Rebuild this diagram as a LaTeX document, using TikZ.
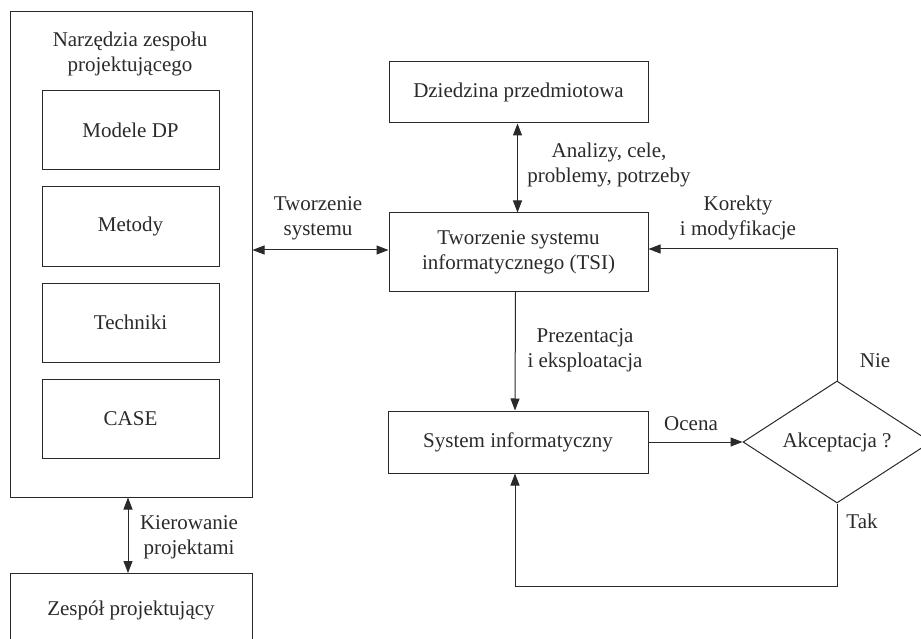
\documentclass[tikz,border=0pt]{standalone}
\usepackage{fontspec}
\setmainfont{Liberation Serif}
\usetikzlibrary{arrows.meta,shapes.geometric}

\definecolor{ink}{HTML}{2A2A2A}

\tikzset{
  box/.style={draw=ink, line width=1pt, rectangle, inner sep=0pt, align=center, text=ink},
  decision/.style={draw=ink, line width=1pt, diamond, inner sep=0pt, aspect=1.54, text=ink},
  lbl/.style={align=center, text=ink, inner sep=0pt},
  conn/.style={draw=ink, line width=1pt},
  arr/.style={conn, -{Triangle[length=12pt,width=9pt]}},
  darr/.style={conn, {Triangle[length=12pt,width=9pt]}-{Triangle[length=12pt,width=9pt]}},
}

\begin{document}
\begin{tikzpicture}[x=1pt, y=-1pt, font=\fontsize{21}{25}\selectfont]
\useasboundingbox (0,0) rectangle (921,639);
\clip (0,0) rectangle (921,639);

% tools of the design team
\node[box, minimum width=242, minimum height=485] (tools) at (131,254.5) {};
\node[lbl] (toolstitle) at (130,54) {Narzędzia zespołu\\projektującego};
\node[box, minimum width=177, minimum height=79] (modele)   at (130.5,130.5) {Modele DP};
\node[box, minimum width=177, minimum height=79] (metody)   at (130.5,226.5) {Metody};
\node[box, minimum width=177, minimum height=79] (techniki) at (130.5,322.5) {Techniki};
\node[box, minimum width=177, minimum height=79] (case)     at (130.5,418.5) {CASE};

% design team (runs past the lower edge)
\node[box, minimum width=242, minimum height=90, anchor=north] (zespol) at (131,573) {};
\node[lbl] (zespoltext) at (131,610) {Zespół projektujący};

% right-hand flow
\node[box, minimum width=259, minimum height=61] (dziedzina) at (518.5,92.5) {Dziedzina przedmiotowa};
\node[box, minimum width=259, minimum height=78] (tsi) at (518.5,252) {Tworzenie systemu\\informatycznego (TSI)};
\node[box, minimum width=260, minimum height=62] (system) at (518,442) {System informatyczny};
\node[decision, minimum width=188, minimum height=122] (akc) at (837,442) {Akceptacja ?};

% connectors
\draw[darr] ([xshift=-3pt]tools.south) -- ([xshift=-3pt]zespol.north);
\node[lbl] (kier) at (189,537.5) {Kierowanie\\projektami};

\draw[darr] (tools.east |- 0,250) -- (tsi.west |- 0,250);
\node[lbl] (tworz) at (318,218) {Tworzenie\\systemu};

\draw[darr] ([xshift=-1pt]dziedzina.south) -- ([xshift=-1pt]tsi.north);
\node[lbl] (analizy) at (609,165) {Analizy, cele,\\problemy, potrzeby};

\draw[arr] ([xshift=-3pt]tsi.south) -- ([xshift=-3pt]system.north);
\node[lbl] (prez) at (585,350) {Prezentacja\\i eksploatacja};

\draw[arr] (system.east) -- (akc.west);
\node[lbl] (ocena) at (691,424) {Ocena};

\draw[arr] (akc.north) |- (tsi.east |- 0,249);
\node[lbl] (korekty) at (738,218) {Korekty\\i modyfikacje};
\node[lbl] (nie) at (875,361) {Nie};

\draw[arr] (akc.south) |- ([xshift=-3pt]system.south |- 0,586) -- ([xshift=-3pt]system.south);
\node[lbl] (tak) at (862,521) {Tak};
\end{tikzpicture}
\end{document}
